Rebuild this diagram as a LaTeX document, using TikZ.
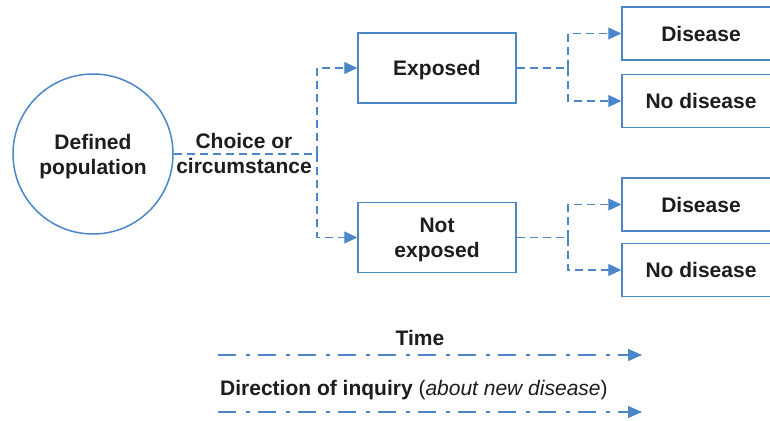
\documentclass[tikz,border=0pt]{standalone}
\usepackage{fontspec}
\setmainfont{Liberation Sans}
\usetikzlibrary{arrows.meta}
\definecolor{lineblue}{HTML}{4A86C8}
\definecolor{txt}{HTML}{1E1C1D}
\begin{document}
\begin{tikzpicture}[x=1pt,y=-1pt,
  every node/.style={text=txt, font=\bfseries\fontsize{21}{25}\selectfont, align=center, inner sep=0pt, text depth=0pt},
  popnode/.style={circle, draw=lineblue, line width=1.5pt, minimum size=160pt},
  box/.style={draw=lineblue, line width=1.5pt, minimum width=158pt, minimum height=70pt},
  outbox/.style={draw=lineblue, line width=1.5pt, minimum width=158pt, minimum height=53pt},
  conn/.style={draw=lineblue, line width=1.1pt, dash pattern=on 8pt off 5pt},
  arr/.style={-{Triangle[length=13pt,width=12pt]}},
  timeline/.style={draw=lineblue, line width=1.1pt, dash pattern=on 18pt off 10pt on 3.5pt off 8.5pt},
  tiparr/.style={-{Triangle[length=14pt,width=12pt]}}
]
\useasboundingbox (0,0) rectangle (770,420);
\fill[white] (0,0) rectangle (770,420);

\node[popnode] (pop) at (93,154) {Defined\\population};
\node (choice) at (244,153) {Choice or\\circumstance};
\node[box] (exp) at (437,68) {Exposed};
\node[box] (nexp) at (437,237.5) {Not\\exposed};

\node[outbox] (d1) at (701,33.5) {Disease};
\node[outbox] (n1) at (701,101) {No disease};
\node[outbox] (d2) at (701,204.5) {Disease};
\node[outbox] (n2) at (701,270) {No disease};

\coordinate (j1) at (317,154);
\draw[conn] (pop.east) -- (j1);
\draw[conn,arr] (j1) |- (exp.west);
\draw[conn,arr] (j1) |- (nexp.west);

\coordinate (j2) at (568,68);
\draw[conn] (exp.east) -- (j2);
\draw[conn,arr] (j2) |- (d1.west);
\draw[conn,arr] (j2) |- (n1.west);

\coordinate (j3) at (568,237.5);
\draw[conn] (nexp.east) -- (j3);
\draw[conn,arr] (j3) |- (d2.west);
\draw[conn,arr] (j3) |- (n2.west);

\node (time) at (420,338) {Time};
\coordinate (t1s) at (218,355);
\coordinate (t1e) at (642,355);
\draw[timeline,tiparr] (t1s) -- (t1e);

\node[anchor=west] (dir) at (220,388) {Direction of inquiry \mdseries(\textit{about new disease})};
\coordinate (t2s) at (218,412);
\coordinate (t2e) at (642,412);
\draw[timeline,tiparr] (t2s) -- (t2e);
\end{tikzpicture}
\end{document}
